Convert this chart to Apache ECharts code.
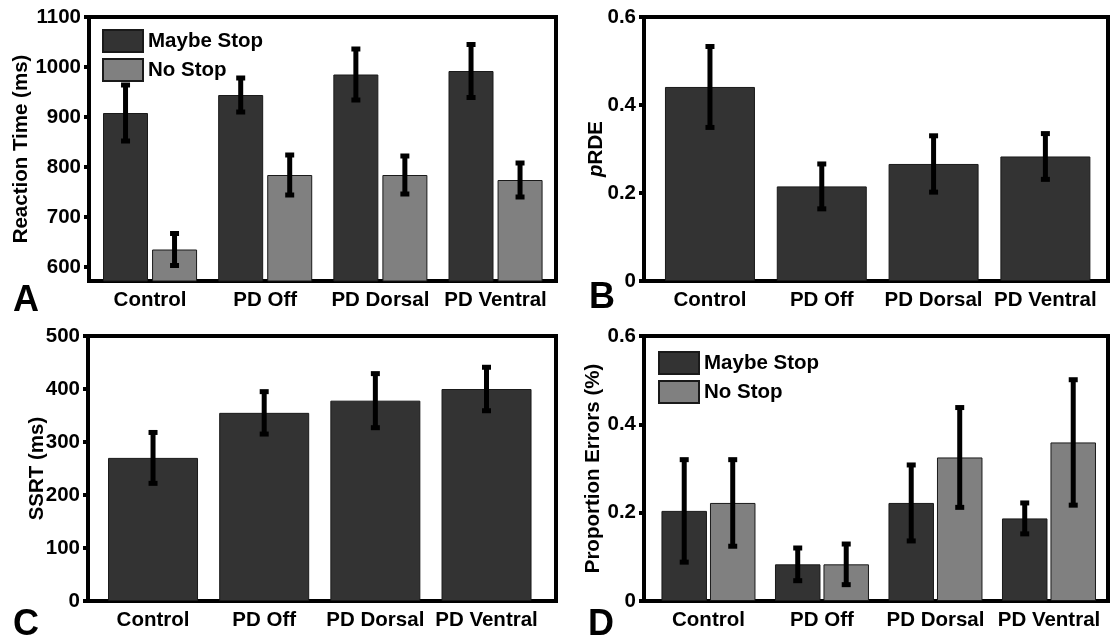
<!DOCTYPE html>
<html>
<head>
<meta charset="utf-8"/>
<script src="https://cdn.jsdelivr.net/npm/echarts@6/dist/echarts.min.js"></script>
<style>
  html, body { margin: 0; padding: 0; background: #fff; }
  #main { width: 1110px; height: 638px; }
</style>
</head>
<body>
<div id="main"></div>
<script type="text/javascript">
// categories and positions on the x scale
var categories = ['Control', 'PD Off', 'PD Dorsal', 'PD Ventral'];
var groupX = [1, 2, 3, 4];

// A: reaction time (ms)
var rtMaybe = [908, 944, 985, 992];
var rtMaybeErr = [56, 34, 51, 53];
var rtNo = [635, 784, 784, 774];
var rtNoErr = [32, 40, 38, 34];
var rtTicks = [600, 700, 800, 900, 1000, 1100];

// B: pRDE
var prde = [0.441, 0.215, 0.266, 0.283];
var prdeErr = [0.092, 0.051, 0.064, 0.052];
var propTicks = [0, 0.2, 0.4, 0.6];

// C: SSRT (ms)
var ssrt = [270, 355, 378, 400];
var ssrtErr = [48, 40, 51, 41];
var ssrtTicks = [0, 100, 200, 300, 400, 500];

// D: proportion errors
var errMaybe = [0.204, 0.083, 0.222, 0.187];
var errMaybeErr = [0.116, 0.037, 0.086, 0.035];
var errNo = [0.222, 0.083, 0.325, 0.359];
var errNoErr = [0.098, 0.046, 0.113, 0.142];

var FONT = '"Liberation Sans", Arial, Helvetica, sans-serif';
var DARK = '#333333';
var LIGHT = '#808080';

function grid(left, top, right, bottom) {
  return { left: left, top: top, right: right, bottom: bottom, show: true,
    borderColor: '#000', borderWidth: 4, backgroundColor: 'transparent' };
}

function xAxis(idx, min, max) {
  return {
    type: 'value', gridIndex: idx, min: min, max: max,
    axisLine: { show: false }, axisTick: { show: false }, splitLine: { show: false },
    axisLabel: {
      customValues: groupX, margin: 9, color: '#000',
      fontFamily: FONT, fontWeight: 'bold', fontSize: 20.5,
      formatter: function (v) { return categories[Math.round(v) - 1] || ''; }
    }
  };
}

function yAxis(idx, min, max, ticks, name, gap, rich) {
  return {
    type: 'value', gridIndex: idx, min: min, max: max,
    name: name, nameLocation: 'middle', nameGap: gap, nameMoveOverlap: false,
    nameTextStyle: { color: '#000', fontFamily: FONT, fontWeight: 'bold', fontSize: 20.5, rich: rich },
    axisLine: { show: false }, splitLine: { show: false },
    axisTick: { show: true, customValues: ticks, length: 5, lineStyle: { color: '#000', width: 4 } },
    axisLabel: { customValues: ticks, margin: 8, color: '#000',
      fontFamily: FONT, fontWeight: 'bold', fontSize: 20.5,
      formatter: function (v) { return String(Math.round(v * 1000) / 1000); } }
  };
}

function bars(name, idx, vals, color, width, gap) {
  return {
    type: 'bar', name: name, xAxisIndex: idx, yAxisIndex: idx,
    barWidth: width, barGap: gap,
    itemStyle: { color: color, borderColor: '#1a1a1a', borderWidth: 1 },
    data: vals.map(function (v, i) { return [groupX[i], v]; })
  };
}

function errorBars(idx, vals, errs, offset) {
  return {
    type: 'custom', name: 'err', xAxisIndex: idx, yAxisIndex: idx, z: 5, silent: true,
    data: vals.map(function (v, i) { return [groupX[i], v - errs[i], v + errs[i]]; }),
    encode: { x: 0, y: [1, 2] },
    renderItem: function (params, api) {
      var lo = api.coord([api.value(0), api.value(1)]);
      var hi = api.coord([api.value(0), api.value(2)]);
      var x = lo[0] + offset;
      return { type: 'group', children: [
        { type: 'line', shape: { x1: x, y1: lo[1], x2: x, y2: hi[1] }, style: { stroke: '#000', lineWidth: 5 } },
        { type: 'rect', shape: { x: x - 4.5, y: hi[1] - 2.5, width: 9, height: 5 }, style: { fill: '#000' } },
        { type: 'rect', shape: { x: x - 4.5, y: lo[1] - 2.5, width: 9, height: 5 }, style: { fill: '#000' } }
      ] };
    }
  };
}

function legend(left, top) {
  return {
    left: left, top: top, orient: 'vertical', padding: 0,
    icon: 'rect', itemWidth: 40, itemHeight: 22, itemGap: 5,
    data: ['Maybe Stop', 'No Stop'],
    textStyle: { color: '#000', fontFamily: FONT, fontWeight: 'bold', fontSize: 20.5, lineHeight: 22 }
  };
}

function letter(txt, left, top) {
  return { type: 'text', left: left, top: top,
    style: { text: txt, fill: '#000', font: 'bold 36px ' + FONT } };
}

var myChart = echarts.init(document.getElementById('main'));
var options = {
  animation: false,
  grid: [
    grid(89, 17, 554, 357),
    grid(644, 17, 2, 357),
    grid(88, 336, 554, 37),
    grid(644, 336, 2, 37)
  ],
  xAxis: [
    xAxis(0, 0.47, 4.525),
    xAxis(1, 0.41, 4.56),
    xAxis(2, 0.415, 4.625),
    xAxis(3, 0.432, 4.52)
  ],
  yAxis: [
    yAxis(0, 572, 1100, rtTicks, 'Reaction Time (ms)', 57),
    yAxis(1, 0, 0.6, propTicks, '{i|p}RDE', 37, { i: { fontStyle: 'italic', fontWeight: 'bold', fontSize: 20.5, fontFamily: FONT, color: '#000' } }),
    yAxis(2, 0, 500, ssrtTicks, 'SSRT (ms)', 40),
    yAxis(3, 0, 0.6, propTicks, 'Proportion Errors (%)', 40)
  ],
  legend: [legend(102, 29), legend(658, 351)],
  graphic: [
    letter('A', 13, 283),
    letter('B', 589, 280),
    letter('C', 13, 607),
    letter('D', 588, 607)
  ],
  series: [
    bars('Maybe Stop', 0, rtMaybe, DARK, 45, '9%'),
    bars('No Stop', 0, rtNo, LIGHT, 45, '9%'),
    errorBars(0, rtMaybe, rtMaybeErr, -24.5),
    errorBars(0, rtNo, rtNoErr, 24.5),

    bars('pRDE', 1, prde, DARK, 90, '0%'),
    errorBars(1, prde, prdeErr, 0),

    bars('SSRT', 2, ssrt, DARK, 90, '0%'),
    errorBars(2, ssrt, ssrtErr, 0),

    bars('Maybe Stop', 3, errMaybe, DARK, 45.5, '6.6%'),
    bars('No Stop', 3, errNo, LIGHT, 45.5, '6.6%'),
    errorBars(3, errMaybe, errMaybeErr, -24.25),
    errorBars(3, errNo, errNoErr, 24.25)
  ]
};
myChart.setOption(options);
</script>
</body>
</html>
